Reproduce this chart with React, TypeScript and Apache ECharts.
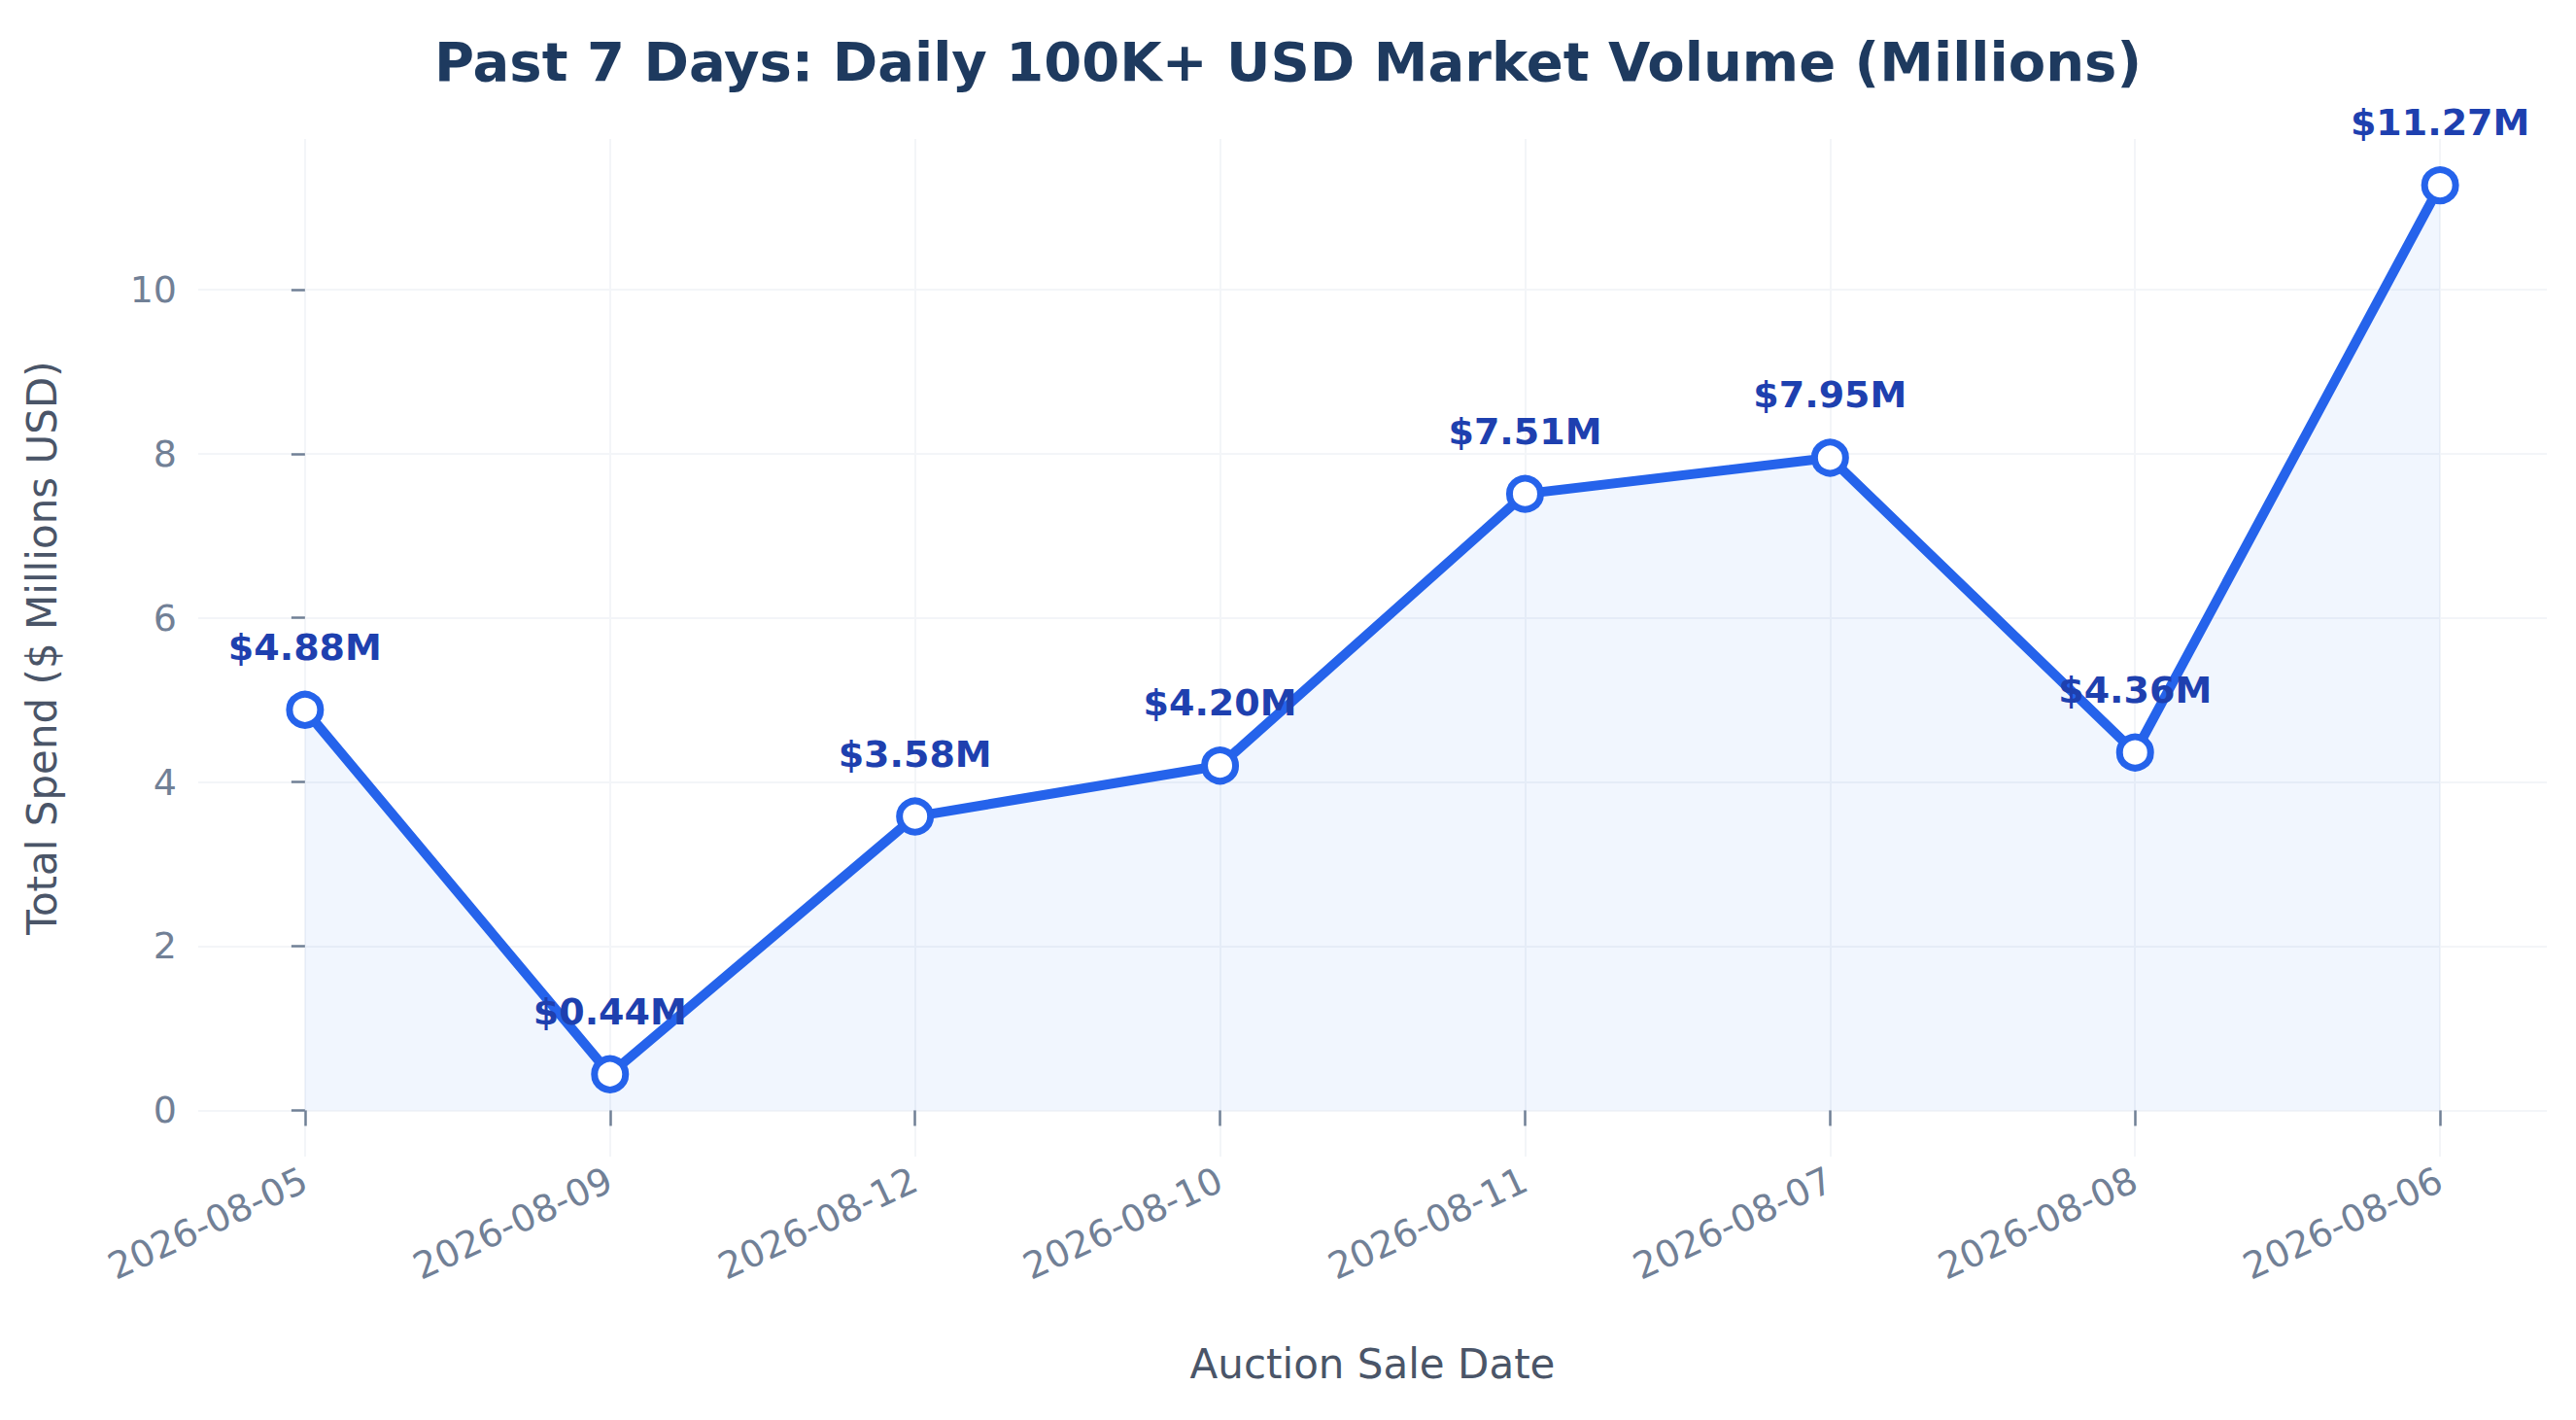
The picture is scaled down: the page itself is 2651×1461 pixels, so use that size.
import { useEffect, useRef } from 'react';
import * as echarts from 'echarts';

const dates = ['2026-08-05', '2026-08-09', '2026-08-12', '2026-08-10', '2026-08-11', '2026-08-07', '2026-08-08', '2026-08-06'];
const spend = [4.88, 0.44, 3.58, 4.2, 7.51, 7.95, 4.36, 11.27];
const yTicks = [0, 2, 4, 6, 8, 10];

export default function App() {
  const chartRef = useRef<HTMLDivElement>(null);

  useEffect(() => {
    if (!chartRef.current) return;
    const chart = echarts.init(chartRef.current, null, { renderer: 'svg' });
    const font = 'DejaVu Sans';
    const tickColor = '#718096';
    const xIdx = dates.map((_, i) => i);

    chart.setOption({
      animation: false,
      backgroundColor: '#ffffff',
      textStyle: { fontFamily: font },
      title: {
        text: 'Past 7 Days: Daily 100K+ USD Market Volume (Millions)',
        left: 'center',
        top: 22,
        textStyle: { fontSize: 56, fontWeight: 'bold', color: '#1e3a5f', fontFamily: font }
      },
      grid: { left: 196, right: 22, top: 135, bottom: 263 },
      xAxis: {
        type: 'value',
        min: -0.35,
        max: 7.35,
        name: 'Auction Sale Date',
        nameLocation: 'middle',
        nameGap: 192,
        nameTextStyle: { fontSize: 42, color: '#4a5568' },
        axisLine: { show: false },
        axisTick: { show: true, length: 16, customValues: xIdx, lineStyle: { color: tickColor, width: 2.5 } },
        axisLabel: {
          customValues: xIdx,
          rotate: 25,
          fontSize: 38,
          color: tickColor,
          margin: 22,
          formatter: (v: number) => dates[Math.round(v)] ?? ''
        },
        splitLine: { show: true, lineStyle: { color: '#f3f5f8', width: 2 } }
      },
      yAxis: {
        type: 'value',
        min: -0.5635,
        max: 11.8335,
        name: 'Total Spend ($ Millions USD)',
        nameLocation: 'middle',
        nameGap: 140,
        nameTextStyle: { fontSize: 42, color: '#4a5568' },
        axisLine: { show: false },
        axisTick: { show: true, length: 14, customValues: yTicks, lineStyle: { color: tickColor, width: 2.5 } },
        axisLabel: { customValues: yTicks, fontSize: 38, color: tickColor, margin: 22 },
        splitLine: { show: true, lineStyle: { color: '#f3f5f8', width: 2 } }
      },
      series: [
        {
          type: 'line',
          data: spend.map((v, i) => [i, v]),
          symbol: 'circle',
          symbolSize: 32,
          lineStyle: { color: '#2563eb', width: 10 },
          itemStyle: { color: '#ffffff', borderColor: '#2563eb', borderWidth: 7 },
          areaStyle: { color: 'rgba(59,130,246,0.1)', origin: 0 },
          label: {
            show: true,
            position: 'top',
            distance: 26,
            fontSize: 38,
            fontWeight: 'bold',
            color: '#1e40af',
            formatter: (p: any) => '$' + p.value[1].toFixed(2) + 'M'
          },
          z: 3
        }
      ]
    });

    return () => chart.dispose();
  }, []);

  return <div ref={chartRef} style={{ width: 2635, height: 1445 }} />;
}
